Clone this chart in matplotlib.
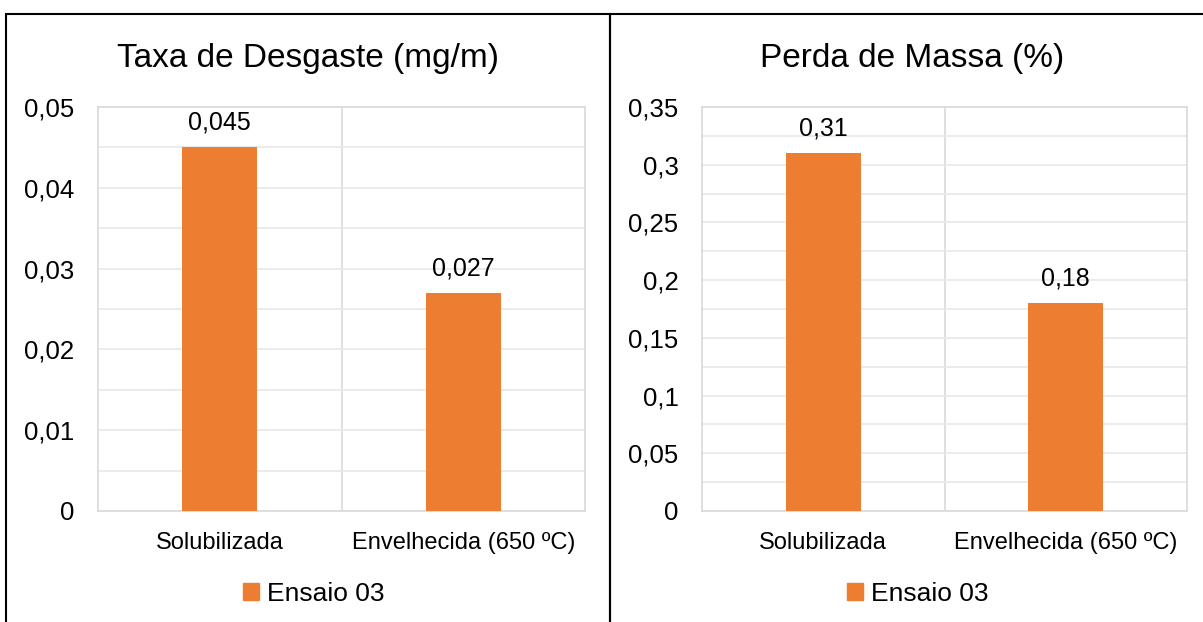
import matplotlib
matplotlib.use("Agg")
import matplotlib.pyplot as plt
from matplotlib.patches import Patch, Rectangle
from matplotlib.ticker import FuncFormatter, MultipleLocator

plt.rcParams["font.family"] = ["Liberation Sans", "DejaVu Sans"]

categorias = ["Solubilizada", "Envelhecida (650 ºC)"]
serie = "Ensaio 03"

taxa_desgaste = [0.045, 0.027]
perda_massa = [0.31, 0.18]

titulos = ["Taxa de Desgaste (mg/m)", "Perda de Massa (%)"]
ylims = [0.05, 0.35]
passos = [0.01, 0.05]

laranja = "#ED7D31"

W, H = 1203, 622
fig = plt.figure(figsize=(W / 100, H / 100), dpi=100)


def virgula(v, pos):
    return "{:g}".format(round(v, 6)).replace(".", ",")


def painel(x0, x1, ax_x0, ax_x1, valores, titulo, ymax, passo, rotulos):
    # moldura do grafico (estilo Excel)
    fig.patches.append(Rectangle((x0 / W, -0.1), (x1 - x0) / W, (H - 14) / H + 0.1,
                                 transform=fig.transFigure, fill=False,
                                 edgecolor="black", linewidth=1.5))
    top, bot = 107, 511
    ax = fig.add_axes([ax_x0 / W, (H - bot) / H, (ax_x1 - ax_x0) / W, (bot - top) / H])
    x = range(len(categorias))
    barras = ax.bar(x, valores, width=0.31, color=laranja, zorder=3)
    for b, r in zip(barras, rotulos):
        ax.annotate(r, (b.get_x() + b.get_width() / 2, b.get_height()),
                    xytext=(0, 9), textcoords="offset points",
                    ha="center", va="bottom", fontsize=18)
    ax.set_xlim(-0.5, 1.5)
    ax.set_ylim(0, ymax)
    ax.set_xticks(list(x))
    ax.set_xticklabels(categorias, fontsize=17)
    ax.set_xticks([0.5], minor=True)
    ax.yaxis.set_major_locator(MultipleLocator(passo))
    ax.yaxis.set_minor_locator(MultipleLocator(passo / 2))
    ax.yaxis.set_major_formatter(FuncFormatter(virgula))
    ax.tick_params(axis="y", labelsize=18.5, length=0, pad=17, which="both")
    ax.tick_params(axis="x", length=0, pad=15, which="both")
    ax.grid(axis="y", which="both", color="#E8E8E8", linewidth=1.2, zorder=0)
    ax.grid(axis="x", which="minor", color="#D9D9D9", linewidth=1.2, zorder=0)
    for s in ax.spines.values():
        s.set_color("#D9D9D9")
        s.set_linewidth(1.2)
    fig.text((x0 + x1) / 2 / W, (H - 58) / H, titulo, ha="center", va="center", fontsize=24)
    ax.legend(handles=[Patch(color=laranja, label=serie)], loc="center",
              bbox_to_anchor=((x0 + x1) / 2 / W + 0.005, (H - 594) / H),
              bbox_transform=fig.transFigure, frameon=False, fontsize=19,
              handlelength=0.6, handleheight=0.6, handletextpad=0.3)
    return ax


painel(6, 610, 98, 585, taxa_desgaste, titulos[0], ylims[0], passos[0], ["0,045", "0,027"])
painel(610, 1214, 702, 1187, perda_massa, titulos[1], ylims[1], passos[1], ["0,31", "0,18"])

fig.savefig("out.png", dpi=100, facecolor="white")
